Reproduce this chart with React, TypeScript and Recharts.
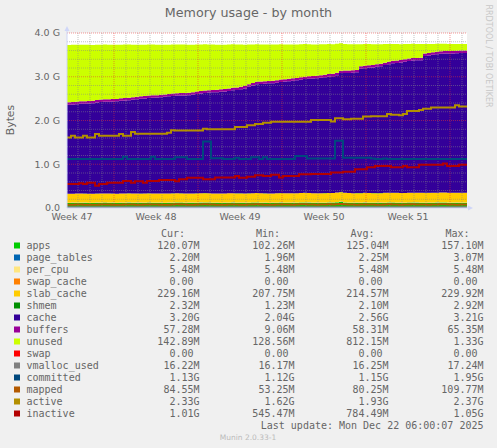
import React from 'react';
import { ComposedChart, Area, Line, XAxis, YAxis, CartesianGrid, ReferenceLine, ReferenceDot } from 'recharts';

// time grid: one sample every 8 hours (values in G = GiB)
const hours = Array.from({ length: 101 }, (_, i) => i * 8);

const apps = [
  0.115,0.116,0.118,0.120,0.117,0.115,0.114,0.116,0.119,0.121,
  0.118,0.116,0.115,0.117,0.120,0.122,0.119,0.117,0.116,0.118,
  0.121,0.120,0.118,0.116,0.115,0.117,0.120,0.123,0.121,0.118,
  0.116,0.117,0.119,0.122,0.125,0.121,0.118,0.116,0.115,0.117,
  0.120,0.122,0.119,0.117,0.116,0.118,0.121,0.124,0.120,0.117,
  0.115,0.116,0.119,0.122,0.120,0.118,0.117,0.119,0.123,0.126,
  0.122,0.119,0.117,0.118,0.120,0.123,0.121,0.130,0.140,0.125,
  0.120,0.118,0.117,0.119,0.122,0.120,0.118,0.116,0.117,0.120,
  0.123,0.121,0.119,0.117,0.118,0.121,0.124,0.122,0.120,0.118,
  0.117,0.119,0.122,0.125,0.123,0.120,0.118,0.117,0.119,0.118,
  0.117,
];
const pageTables = [
  0.002,0.002,0.002,0.002,0.002,0.002,0.002,0.002,0.002,0.002,
  0.002,0.002,0.002,0.002,0.002,0.002,0.002,0.002,0.002,0.002,
  0.002,0.002,0.002,0.002,0.002,0.002,0.002,0.002,0.002,0.002,
  0.002,0.002,0.002,0.002,0.002,0.002,0.002,0.002,0.002,0.002,
  0.002,0.002,0.002,0.002,0.002,0.002,0.002,0.002,0.002,0.002,
  0.002,0.002,0.002,0.002,0.002,0.002,0.002,0.002,0.002,0.002,
  0.002,0.002,0.002,0.002,0.002,0.002,0.002,0.003,0.003,0.002,
  0.002,0.002,0.002,0.002,0.002,0.002,0.002,0.002,0.002,0.002,
  0.002,0.002,0.002,0.002,0.002,0.002,0.002,0.002,0.002,0.002,
  0.002,0.002,0.002,0.002,0.002,0.002,0.002,0.002,0.002,0.002,
  0.002,
];
const perCpu = [
  0.005,0.005,0.005,0.005,0.005,0.005,0.005,0.005,0.005,0.005,
  0.005,0.005,0.005,0.005,0.005,0.005,0.005,0.005,0.005,0.005,
  0.005,0.005,0.005,0.005,0.005,0.005,0.005,0.005,0.005,0.005,
  0.005,0.005,0.005,0.005,0.005,0.005,0.005,0.005,0.005,0.005,
  0.005,0.005,0.005,0.005,0.005,0.005,0.005,0.005,0.005,0.005,
  0.005,0.005,0.005,0.005,0.005,0.005,0.005,0.005,0.005,0.005,
  0.005,0.005,0.005,0.005,0.005,0.005,0.005,0.005,0.005,0.005,
  0.005,0.005,0.005,0.005,0.005,0.005,0.005,0.005,0.005,0.005,
  0.005,0.005,0.005,0.005,0.005,0.005,0.005,0.005,0.005,0.005,
  0.005,0.005,0.005,0.005,0.005,0.005,0.005,0.005,0.005,0.005,
  0.005,
];
const swapCache = [
  0,0,0,0,0,0,0,0,0,0, 0,0,0,0,0,0,0,0,0,0, 0,0,0,0,0,0,0,0,0,0,
  0,0,0,0,0,0,0,0,0,0, 0,0,0,0,0,0,0,0,0,0, 0,0,0,0,0,0,0,0,0,0,
  0,0,0,0,0,0,0,0,0,0, 0,0,0,0,0,0,0,0,0,0, 0,0,0,0,0,0,0,0,0,0,
  0,0,0,0,0,0,0,0,0,0, 0,
];
const slabCache = [
  0.203,0.203,0.204,0.203,0.204,0.204,0.203,0.204,0.205,0.204,
  0.204,0.205,0.204,0.205,0.205,0.204,0.205,0.206,0.205,0.205,
  0.206,0.205,0.206,0.206,0.207,0.206,0.206,0.207,0.206,0.207,
  0.207,0.206,0.207,0.208,0.207,0.208,0.207,0.208,0.208,0.207,
  0.208,0.209,0.208,0.209,0.208,0.209,0.209,0.210,0.209,0.210,
  0.210,0.209,0.210,0.211,0.210,0.211,0.211,0.210,0.212,0.211,
  0.212,0.211,0.212,0.213,0.212,0.213,0.213,0.214,0.213,0.214,
  0.214,0.213,0.215,0.214,0.215,0.216,0.215,0.216,0.216,0.217,
  0.216,0.217,0.218,0.217,0.218,0.219,0.218,0.219,0.220,0.219,
  0.220,0.221,0.220,0.221,0.222,0.221,0.222,0.223,0.222,0.223,
  0.224,
];
const shmem = [
  0.002,0.002,0.002,0.002,0.002,0.002,0.002,0.002,0.002,0.002,
  0.002,0.002,0.002,0.002,0.002,0.002,0.002,0.002,0.002,0.002,
  0.002,0.002,0.002,0.002,0.002,0.002,0.002,0.002,0.002,0.002,
  0.002,0.002,0.002,0.002,0.002,0.002,0.002,0.002,0.002,0.002,
  0.002,0.002,0.002,0.002,0.002,0.002,0.002,0.002,0.002,0.002,
  0.002,0.002,0.002,0.002,0.002,0.002,0.002,0.002,0.002,0.002,
  0.002,0.002,0.002,0.002,0.002,0.002,0.002,0.003,0.003,0.002,
  0.002,0.002,0.002,0.002,0.002,0.002,0.002,0.002,0.002,0.002,
  0.002,0.002,0.002,0.002,0.002,0.002,0.002,0.002,0.002,0.002,
  0.002,0.002,0.002,0.002,0.002,0.002,0.002,0.002,0.002,0.002,
  0.002,
];
const cache = [
  2.034,2.040,2.040,2.050,2.055,2.060,2.070,2.085,2.090,2.095,
  2.100,2.105,2.110,2.120,2.125,2.130,2.140,2.155,2.167,2.170,
  2.180,2.185,2.190,2.200,2.210,2.220,2.227,2.230,2.235,2.240,
  2.245,2.255,2.270,2.280,2.290,2.300,2.310,2.315,2.325,2.330,
  2.340,2.350,2.360,2.380,2.400,2.435,2.460,2.485,2.495,2.505,
  2.515,2.520,2.526,2.540,2.550,2.560,2.570,2.580,2.590,2.600,
  2.610,2.620,2.630,2.640,2.650,2.660,2.670,2.680,2.720,2.740,
  2.745,2.750,2.760,2.840,2.850,2.860,2.870,2.890,2.900,2.920,
  2.940,2.960,2.970,2.985,3.000,3.010,3.020,3.025,3.030,3.130,
  3.140,3.155,3.165,3.173,3.180,3.183,3.185,3.190,3.193,3.195,
  3.200,
];
const buffers = [
  0.056,0.056,0.056,0.056,0.056,0.056,0.056,0.056,0.056,0.056,
  0.056,0.056,0.056,0.056,0.056,0.056,0.056,0.056,0.056,0.056,
  0.056,0.056,0.056,0.056,0.056,0.056,0.056,0.056,0.056,0.056,
  0.056,0.056,0.056,0.056,0.056,0.056,0.056,0.056,0.056,0.056,
  0.056,0.056,0.056,0.056,0.056,0.056,0.056,0.056,0.056,0.056,
  0.056,0.056,0.056,0.056,0.056,0.056,0.056,0.056,0.056,0.056,
  0.056,0.056,0.056,0.056,0.056,0.056,0.056,0.056,0.056,0.056,
  0.056,0.056,0.056,0.056,0.056,0.056,0.056,0.056,0.056,0.056,
  0.056,0.056,0.056,0.056,0.056,0.056,0.056,0.056,0.056,0.056,
  0.056,0.056,0.056,0.056,0.056,0.056,0.056,0.056,0.056,0.056,
  0.056,
];
const unused = [
  1.311,1.305,1.305,1.295,1.290,1.285,1.275,1.260,1.255,1.250,
  1.245,1.240,1.235,1.225,1.220,1.215,1.205,1.190,1.178,1.175,
  1.165,1.160,1.155,1.145,1.135,1.125,1.118,1.115,1.110,1.105,
  1.100,1.090,1.075,1.065,1.055,1.045,1.035,1.030,1.020,1.015,
  1.005,0.995,0.985,0.965,0.945,0.910,0.885,0.860,0.850,0.840,
  0.830,0.825,0.819,0.805,0.795,0.785,0.775,0.765,0.755,0.745,
  0.735,0.725,0.715,0.705,0.695,0.685,0.675,0.665,0.625,0.605,
  0.600,0.595,0.585,0.505,0.495,0.485,0.475,0.455,0.445,0.425,
  0.405,0.385,0.375,0.360,0.345,0.335,0.325,0.320,0.315,0.215,
  0.205,0.190,0.180,0.172,0.165,0.162,0.160,0.155,0.152,0.150,
  0.143,
];
const swap = [
  0,0,0,0,0,0,0,0,0,0, 0,0,0,0,0,0,0,0,0,0, 0,0,0,0,0,0,0,0,0,0,
  0,0,0,0,0,0,0,0,0,0, 0,0,0,0,0,0,0,0,0,0, 0,0,0,0,0,0,0,0,0,0,
  0,0,0,0,0,0,0,0,0,0, 0,0,0,0,0,0,0,0,0,0, 0,0,0,0,0,0,0,0,0,0,
  0,0,0,0,0,0,0,0,0,0, 0,
];
const vmallocUsed = [
  0.016,0.016,0.016,0.016,0.016,0.016,0.016,0.016,0.016,0.016,
  0.016,0.016,0.016,0.016,0.016,0.016,0.016,0.016,0.016,0.016,
  0.016,0.016,0.016,0.016,0.016,0.016,0.016,0.016,0.016,0.016,
  0.016,0.016,0.016,0.016,0.016,0.016,0.016,0.016,0.016,0.016,
  0.016,0.016,0.016,0.016,0.016,0.016,0.016,0.016,0.016,0.016,
  0.016,0.016,0.016,0.016,0.016,0.016,0.016,0.016,0.016,0.016,
  0.016,0.016,0.016,0.016,0.016,0.016,0.016,0.017,0.017,0.016,
  0.016,0.016,0.016,0.016,0.016,0.016,0.016,0.016,0.016,0.016,
  0.016,0.016,0.016,0.016,0.016,0.016,0.016,0.016,0.016,0.016,
  0.016,0.016,0.016,0.016,0.016,0.016,0.016,0.016,0.016,0.016,
  0.016,
];
const committed = [
  1.12,1.12,1.12,1.12,1.12,1.12,1.12,1.12,1.12,1.12,
  1.12,1.12,1.12,1.12,1.17,1.12,1.12,1.12,1.12,1.12,
  1.12,1.17,1.12,1.12,1.12,1.12,1.12,1.16,1.16,1.16,
  1.12,1.12,1.12,1.12,1.52,1.52,1.14,1.14,1.14,1.12,
  1.12,1.12,1.15,1.12,1.12,1.12,1.16,1.16,1.12,1.16,
  1.12,1.12,1.12,1.12,1.12,1.12,1.12,1.19,1.19,1.19,
  1.13,1.13,1.13,1.13,1.13,1.13,1.13,1.54,1.54,1.15,
  1.15,1.15,1.15,1.15,1.15,1.15,1.13,1.12,1.12,1.13,
  1.12,1.12,1.12,1.12,1.12,1.12,1.12,1.12,1.12,1.12,
  1.12,1.12,1.12,1.12,1.12,1.12,1.12,1.12,1.12,1.12,
  1.13,
];
const mapped = [
  0.075,0.076,0.078,0.080,0.077,0.075,0.074,0.076,0.079,0.081,
  0.078,0.076,0.075,0.077,0.080,0.082,0.079,0.077,0.076,0.078,
  0.081,0.080,0.078,0.076,0.075,0.077,0.080,0.083,0.081,0.078,
  0.076,0.077,0.079,0.082,0.085,0.081,0.078,0.076,0.075,0.077,
  0.080,0.082,0.079,0.077,0.076,0.078,0.081,0.084,0.080,0.077,
  0.075,0.076,0.079,0.082,0.080,0.078,0.077,0.079,0.083,0.086,
  0.082,0.079,0.077,0.078,0.080,0.083,0.081,0.085,0.090,0.083,
  0.080,0.078,0.077,0.079,0.082,0.080,0.078,0.076,0.077,0.080,
  0.083,0.081,0.079,0.077,0.078,0.081,0.084,0.082,0.080,0.078,
  0.077,0.079,0.082,0.085,0.083,0.080,0.078,0.077,0.079,0.081,
  0.083,
];
const active = [
  1.61,1.65,1.61,1.61,1.65,1.61,1.61,1.69,1.65,1.65,
  1.65,1.65,1.65,1.69,1.65,1.65,1.74,1.70,1.70,1.70,
  1.70,1.70,1.70,1.70,1.70,1.72,1.78,1.77,1.77,1.77,
  1.77,1.77,1.77,1.77,1.81,1.80,1.80,1.80,1.80,1.80,
  1.80,1.80,1.85,1.85,1.85,1.89,1.89,1.92,1.92,1.95,
  1.95,1.97,1.97,1.97,1.97,1.97,1.97,1.97,1.97,1.97,
  1.97,2.01,2.01,2.01,2.01,2.01,1.98,2.05,2.05,2.03,
  2.03,2.04,2.04,2.04,2.09,2.09,2.10,2.10,2.10,2.10,
  2.15,2.13,2.13,2.12,2.15,2.22,2.22,2.22,2.24,2.27,
  2.27,2.30,2.30,2.30,2.30,2.30,2.30,2.35,2.32,2.32,
  2.33,
];
const inactive = [
  0.55,0.55,0.55,0.565,0.55,0.58,0.58,0.51,0.55,0.55,
  0.58,0.58,0.58,0.58,0.62,0.62,0.58,0.61,0.61,0.58,
  0.62,0.62,0.62,0.64,0.64,0.64,0.64,0.61,0.66,0.66,
  0.69,0.69,0.69,0.69,0.66,0.66,0.66,0.70,0.70,0.70,
  0.70,0.70,0.73,0.69,0.69,0.715,0.715,0.75,0.75,0.73,
  0.73,0.76,0.76,0.70,0.73,0.73,0.73,0.73,0.77,0.77,
  0.77,0.78,0.78,0.78,0.78,0.78,0.81,0.81,0.81,0.83,
  0.83,0.83,0.885,0.885,0.885,0.93,0.93,0.96,0.96,0.96,
  0.96,0.93,0.93,0.93,0.96,0.93,0.93,0.93,0.99,0.99,
  0.99,0.99,0.99,0.99,1.02,0.96,0.96,0.96,0.99,0.99,
  1.01,
];

// axes / grid
const weekTicks = [10, 178, 346, 514, 682];
const weekLabels = ['Week 47', 'Week 48', 'Week 49', 'Week 50', 'Week 51'];
const yTicks = [0, 1, 2, 3, 4];
const yTickLabels = ['0.0', '1.0 G', '2.0 G', '3.0 G', '4.0 G'];
const minorY = [0.2,0.4,0.6,0.8,1.2,1.4,1.6,1.8,2.2,2.4,2.6,2.8,3.2,3.4,3.6,3.8];
const majorY = [1, 2, 3, 4];
const minorX = [22,46,70,118,142,166,190,214,238,286,310,334,358,382,406,454,478,502,526,550,574,622,646,670,694,718,742,790];
const majorX = [94, 262, 430, 598, 766];

// legend
const legendNames = ['apps','page_tables','per_cpu','swap_cache','slab_cache','shmem','cache','buffers','unused','swap','vmalloc_used','committed','mapped','active','inactive'];
const legendColors = ['#00CC00','#0066B3','#FFE680','#FF8000','#FFCC00','#008F00','#330099','#990099','#CCFF00','#FF0000','#808080','#00487D','#B35A00','#B38F00','#B30000'];
const curVals = ['120.07M','2.20M','5.48M','0.00','229.16M','2.32M','3.20G','57.28M','142.89M','0.00','16.22M','1.13G','84.55M','2.33G','1.01G'];
const minVals = ['102.26M','1.96M','5.48M','0.00','207.75M','1.23M','2.04G','9.06M','128.56M','0.00','16.17M','1.12G','53.25M','1.62G','545.47M'];
const avgVals = ['125.04M','2.25M','5.48M','0.00','214.57M','2.10M','2.56G','58.31M','812.15M','0.00','16.25M','1.15G','80.25M','1.93G','784.49M'];
const maxVals = ['157.10M','3.07M','5.48M','0.00','229.92M','2.92M','3.21G','65.35M','1.33G','0.00','17.24M','1.95G','109.77M','2.37G','1.05G'];

const rows = hours.map((t, i) => ({
  t,
  apps: apps[i], page_tables: pageTables[i], per_cpu: perCpu[i], swap_cache: swapCache[i],
  slab_cache: slabCache[i], shmem: shmem[i], cache: cache[i], buffers: buffers[i],
  unused: unused[i], swap: swap[i], vmalloc_used: vmallocUsed[i], committed: committed[i],
  mapped: mapped[i], active: active[i], inactive: inactive[i],
}));

const stackKeys = ['apps','page_tables','per_cpu','swap_cache','slab_cache','shmem','cache','buffers','unused','swap'];
const lineKeys = ['vmalloc_used','committed','mapped','active','inactive'];
const colorOf = (k: string) => legendColors[legendNames.indexOf(k)];

const FONT = '"DejaVu Sans", sans-serif';
const MONO = '"DejaVu Sans Mono", monospace';
const MINOR = 'rgba(135,135,135,0.5)';
const MAJOR = 'rgba(235,50,50,0.5)';
const AXIS = '#CFD6F8';

const UpArrow = (p: any) => (
  <g>
    <line x1={p.cx} y1={p.cy} x2={p.cx} y2={p.cy - 5} stroke={AXIS} strokeWidth={1} />
    <polygon points={`${p.cx - 2.5},${p.cy - 2} ${p.cx + 2.5},${p.cy - 2} ${p.cx},${p.cy - 7}`} fill={AXIS} />
  </g>
);
const RightArrow = (p: any) => (
  <g>
    <line x1={p.cx} y1={p.cy} x2={p.cx + 2} y2={p.cy} stroke={AXIS} strokeWidth={1} />
    <polygon points={`${p.cx + 1},${p.cy - 2.5} ${p.cx + 1},${p.cy + 2.5} ${p.cx + 6},${p.cy}`} fill={AXIS} />
  </g>
);

const colEnds = [199.5, 294.5, 388.5, 483.5];
const headEnds = [185, 280, 374.5, 469.5];
const heads = ['Cur:', 'Min:', 'Avg:', 'Max:'];
const cols = [curVals, minVals, avgVals, maxVals];

export default function App() {
  return (
    <div style={{ position: 'absolute', left: 0, top: 0, width: 497, height: 448, background: '#F0F0F0', overflow: 'hidden' }}>
      <ComposedChart width={497} height={448} data={rows} margin={{ top: 33, right: 30, bottom: 220, left: 7 }}>
        <CartesianGrid fill="#FFFFFF" horizontal={false} vertical={false} stroke="none" />
        <XAxis
          type="number" dataKey="t" domain={[0, 800]} ticks={weekTicks} allowDataOverflow
          tickFormatter={(v: number) => weekLabels[weekTicks.indexOf(v)]}
          axisLine={{ stroke: AXIS }} tickLine={false} tickSize={0} tickMargin={5.5} height={20}
          tick={{ fill: '#666666', fontSize: 9.5, fontFamily: FONT }} interval={0}
        />
        <YAxis
          type="number" domain={[0, 4]} ticks={yTicks} allowDataOverflow
          tickFormatter={(v: number) => yTickLabels[yTicks.indexOf(v)]}
          axisLine={{ stroke: AXIS }} tickLine={false} tickSize={0} tickMargin={7} width={60}
          tick={{ fill: '#666666', fontSize: 9.5, fontFamily: FONT }} interval={0}
        />
        {stackKeys.map((k) => (
          <Area key={k} type="stepAfter" dataKey={k} stackId="mem" fill={colorOf(k)} fillOpacity={1}
            stroke="none" dot={false} activeDot={false} isAnimationActive={false} />
        ))}
        {minorY.map((v) => (
          <ReferenceLine key={'my' + v} y={v} stroke={MINOR} strokeDasharray="1 1" />
        ))}
        {minorX.map((v) => (
          <ReferenceLine key={'mx' + v} x={v} stroke={MINOR} strokeDasharray="1 1" />
        ))}
        {majorY.map((v) => (
          <ReferenceLine key={'My' + v} y={v} stroke={MAJOR} strokeDasharray="1 1" />
        ))}
        {majorX.map((v) => (
          <ReferenceLine key={'Mx' + v} x={v} stroke={MAJOR} strokeDasharray="1 1" />
        ))}
        {lineKeys.map((k) => (
          <Line key={k} type="stepAfter" dataKey={k} stroke={colorOf(k)} strokeWidth={2}
            dot={false} activeDot={false} isAnimationActive={false} />
        ))}
        <ReferenceDot x={0} y={4} r={0} ifOverflow="visible" shape={UpArrow} />
        <ReferenceDot x={800} y={0} r={0} ifOverflow="visible" shape={RightArrow} />
      </ComposedChart>
      <svg width={497} height={448} style={{ position: 'absolute', left: 0, top: 0, pointerEvents: 'none' }}>
        <text x={248.5} y={17} textAnchor="middle" fontFamily={FONT} fontSize={12.7} fill="#666666">Memory usage - by month</text>
        <text x={0} y={0} transform="translate(14,120) rotate(-90)" textAnchor="middle" fontFamily={FONT} fontSize={10.8} fill="#666666">Bytes</text>
        <text x={0} y={0} transform="translate(485.5,56) rotate(90)" textAnchor="middle" fontFamily={FONT} fontSize={8} fill="#C8C8C8">RRDTOOL / TOBI OETIKER</text>
        {heads.map((h, j) => (
          <text key={h} x={headEnds[j]} y={237} textAnchor="end" fontFamily={MONO} fontSize={10} fill="#666666">{h}</text>
        ))}
        {legendNames.map((n, i) => (
          <g key={n}>
            <rect x={14} y={242.5 + i * 12} width={6} height={6} fill={legendColors[i]} />
            <text x={26.5} y={249.3 + i * 12} fontFamily={MONO} fontSize={10} fill="#666666">{n}</text>
            {cols.map((c, j) => (
              <text key={j} x={/[A-Za-z]$/.test(c[i]) ? colEnds[j] : colEnds[j] - 6} y={249.3 + i * 12}
                textAnchor="end" fontFamily={MONO} fontSize={10} fill="#666666">{c[i]}</text>
            ))}
          </g>
        ))}
        <text x={483.5} y={429.3} textAnchor="end" fontFamily={MONO} fontSize={10} fill="#666666">Last update: Mon Dec 22 06:00:07 2025</text>
        <text x={248} y={440} textAnchor="middle" fontFamily={FONT} fontSize={7.5} fill="#BBBBBB">Munin 2.0.33-1</text>
      </svg>
    </div>
  );
}
